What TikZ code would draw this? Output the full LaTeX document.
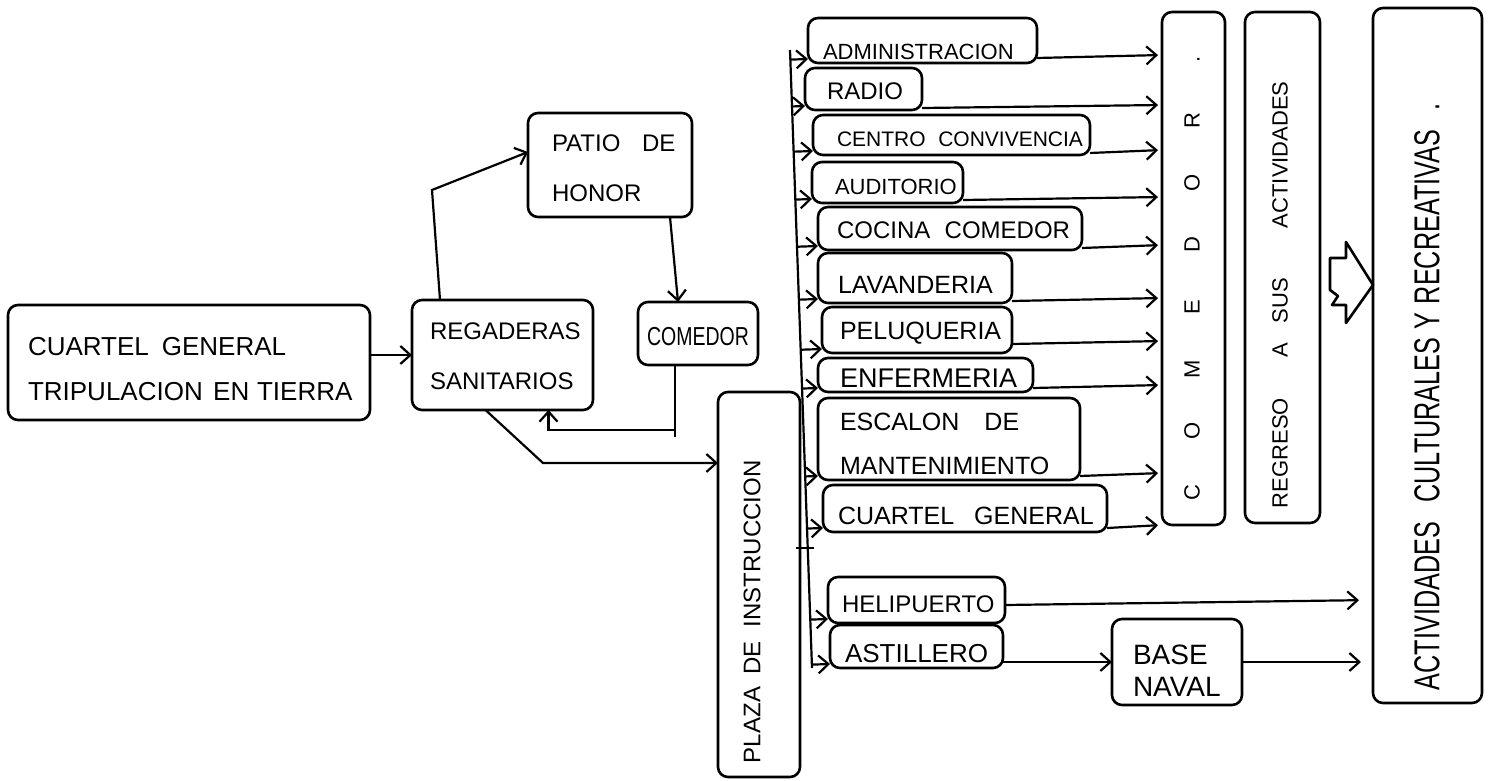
\documentclass[tikz,border=0pt]{standalone}
\usepackage{fontspec}
\setmainfont{Liberation Sans}
\usepackage{graphicx}
\usetikzlibrary{arrows.meta,calc}
\newcommand\fz[2]{\fontsize{#1}{#2}\selectfont}
\begin{document}
\begin{tikzpicture}[x=0.5pt,y=-0.5pt,
  box/.style={draw,line width=1.3pt,rounded corners=5pt,inner sep=0pt,outer sep=0pt},
  lbl/.style={inner sep=0pt,outer sep=0pt,anchor=north west,align=left},
  vlbl/.style={inner sep=0pt,outer sep=0pt,rotate=90},
  arr/.style={line width=1.1pt,-{Straight Barb[length=5pt,width=9pt,line width=1.1pt]}},
  ln/.style={line width=1.1pt}]
\useasboundingbox (0,0) rectangle (1488,781);

% ---------- boxes ----------
\node[box,minimum width=181pt,minimum height=57.5pt] (CG) at (189,362.5) {};
\node[box,minimum width=90.5pt,minimum height=55pt] (REG) at (502.5,355) {};
\node[box,minimum width=82pt,minimum height=52pt] (PATIO) at (610,165) {};
\node[box,minimum width=60pt,minimum height=31.5pt] (CMD) at (698,333.5) {};
\node[box,minimum width=41pt,minimum height=192.5pt] (PLAZA) at (759,584.5) {};
\node[box,minimum width=114.5pt,minimum height=22.5pt] (ADMIN) at (922.5,40.5) {};
\node[box,minimum width=58.5pt,minimum height=21pt] (RADIO) at (863.5,89) {};
\node[box,minimum width=138.5pt,minimum height=20pt] (CENTRO) at (951.5,135) {};
\node[box,minimum width=75.5pt,minimum height=20.5pt] (AUDIT) at (887.5,182.5) {};
\node[box,minimum width=132pt,minimum height=21.5pt] (COCINA) at (950,228.5) {};
\node[box,minimum width=97pt,minimum height=25pt] (LAVAN) at (915,278) {};
\node[box,minimum width=95pt,minimum height=23pt] (PELUQ) at (917,330) {};
\node[box,minimum width=107.5pt,minimum height=17pt] (ENFER) at (925.5,375) {};
\node[box,minimum width=131pt,minimum height=41pt] (ESCAL) at (949,439) {};
\node[box,minimum width=142pt,minimum height=23.5pt] (CG2) at (965,508.5) {};
\node[box,minimum width=88.5pt,minimum height=23pt] (HELI) at (916.5,600) {};
\node[box,minimum width=86.5pt,minimum height=21.5pt] (AST) at (916.5,646.5) {};
\node[box,minimum width=65pt,minimum height=43pt] (BASE) at (1177,662) {};
\node[box,minimum width=31.5pt,minimum height=256.5pt] (COM2) at (1193.5,268.5) {};
\node[box,minimum width=37.5pt,minimum height=255.5pt] (REGR) at (1282.5,267.5) {};
\node[box,minimum width=54.5pt,minimum height=347.5pt] (ACT) at (1427.5,355.5) {};

% ---------- texts ----------
\node[lbl,font=\fz{13}{22.5}] (tCG) at (28,337) {CUARTEL\hspace{0.5em}GENERAL\\TRIPULACION\hspace{0.4em}EN\hspace{0.3em}TIERRA};
\node[lbl,font=\fz{12}{25}] (tREG) at (430,323) {REGADERAS\\SANITARIOS};
\node[lbl,font=\fz{12}{25}] (tPATIO) at (552,135) {PATIO\hspace{0.9em}DE\\HONOR};
\node[inner sep=0pt,font=\fz{13}{15}] (tCMD) at (698,337) {\scalebox{0.75}[1]{COMEDOR}};
\node[vlbl,anchor=west,font=\fz{12}{14}] (tPLAZA) at (752,763) {PLAZA\hspace{0.5em}DE\hspace{0.6em}INSTRUCCION};
\node[lbl,font=\fz{11}{13}] (tADMIN) at (823,44) {ADMINISTRACION};
\node[lbl,font=\fz{12}{14}] (tRADIO) at (827,83) {RADIO};
\node[lbl,font=\fz{10.5}{13}] (tCENTRO) at (837,132) {CENTRO\hspace{0.6em}CONVIVENCIA};
\node[lbl,font=\fz{11}{13}] (tAUDIT) at (835,179) {AUDITORIO};
\node[lbl,font=\fz{12}{14}] (tCOCINA) at (837,222) {COCINA\hspace{0.6em}COMEDOR};
\node[lbl,font=\fz{12.5}{14}] (tLAVAN) at (838,276) {LAVANDERIA};
\node[lbl,font=\fz{12.5}{14}] (tPELUQ) at (840,322) {PELUQUERIA};
\node[lbl,font=\fz{13.5}{15}] (tENFER) at (840,369) {ENFERMERIA};
\node[lbl,font=\fz{12.5}{22}] (tESCAL) at (840,413) {ESCALON\hspace{1em}DE\\MANTENIMIENTO};
\node[lbl,font=\fz{12.5}{14}] (tCG2) at (838,507) {CUARTEL\hspace{0.8em}GENERAL};
\node[lbl,font=\fz{12}{14}] (tHELI) at (842,596) {HELIPUERTO};
\node[lbl,font=\fz{13}{14}] (tAST) at (845,644) {ASTILLERO};
\node[lbl,font=\fz{14}{16}] (tBASE) at (1133,645) {BASE\\NAVAL};
\node[vlbl,font=\fz{11}{13}] (tCOM2) at (1192,276) {\makebox[31pt]{C}\makebox[31pt]{O}\makebox[31pt]{M}\makebox[31pt]{E}\makebox[31pt]{D}\makebox[31pt]{O}\makebox[31pt]{R}\makebox[31pt]{.}};
\node[vlbl,anchor=west,font=\fz{11}{13}] (tREGR) at (1280,508) {REGRESO\hspace{20pt}A\hspace{10pt}SUS\hspace{25pt}ACTIVIDADES};
\node[vlbl,anchor=west,font=\fz{18}{20}] (tACT) at (1427,690) {\scalebox{0.7}[1]{ACTIVIDADES\hspace{14pt}CULTURALES\hspace{6pt}Y\hspace{6pt}RECREATIVAS\hspace{14pt}.}};

% ---------- connectors (left part) ----------
\draw[arr] (CG.east |- REG.west) -- (REG.west);
\coordinate (k1) at (432,190);
\draw[arr] ($(REG.north west)+(28,0)$) -- (k1) -- ($(PATIO.west)+(0,-13)$);
\draw[arr] ($(PATIO.south)+(60,0)$) -- ($(CMD.north)+(-20,0)$);
\draw[ln] ($(CMD.south)+(-23,0)$) -- ++(0,72);
\coordinate (k2) at (675,430);
\draw[arr] (k2) -| ($(REG.south)+(46,0)$);
\coordinate (k3) at (543,463);
\draw[arr] ($(REG.south)+(-17,0)$) -- (k3) -- (k3 -| PLAZA.west);

% ---------- bus ----------
\coordinate (busT) at (790,50);
\coordinate (busB) at (812,668);
\draw[ln] (busT) -- (busB);
\draw[ln] ($(PLAZA.east)+(-4,-36.5)$) -- ++(18,0);
\foreach \n in {ADMIN,RADIO,CENTRO,AUDIT,COCINA,LAVAN,PELUQ,ENFER,ESCAL,CG2,HELI,AST}{
  \coordinate (e) at ($(\n.south west)+(0,-4)$);
  \draw[arr] ($(busT)!(e)!(busB)$) -- (e);
}

% ---------- to comedor ----------
\foreach \n/\d in {ADMIN/5,RADIO/2,CENTRO/2,AUDIT/3,COCINA/2,LAVAN/2,PELUQ/9,ENFER/4,ESCAL/4,CG2/4}{
  \draw[arr,shorten >=2pt] ($(\n.south east)+(0,-\d)$) -- ($(COM2.west |- \n.south east)+(0,-\d-3)$);
}

% ---------- bottom ----------
\draw[arr,shorten >=7pt] ($(HELI.east)+(0,5)$) -- ($(ACT.west |- HELI.east)+(0,0)$);
\draw[arr] (AST.east |- BASE.west) -- (BASE.west);
\draw[arr,shorten >=6pt] (BASE.east) -- (ACT.west |- BASE.east);

% ---------- block arrow ----------
\draw[line width=1.3pt,line join=round] (1330,258) -- (1346,258) -- (1346,242) -- (1373,285)
  -- (1346,323) -- (1346,305) -- (1332,305) -- (1338,296) -- (1330,290) -- cycle;
\end{tikzpicture}
\end{document}
